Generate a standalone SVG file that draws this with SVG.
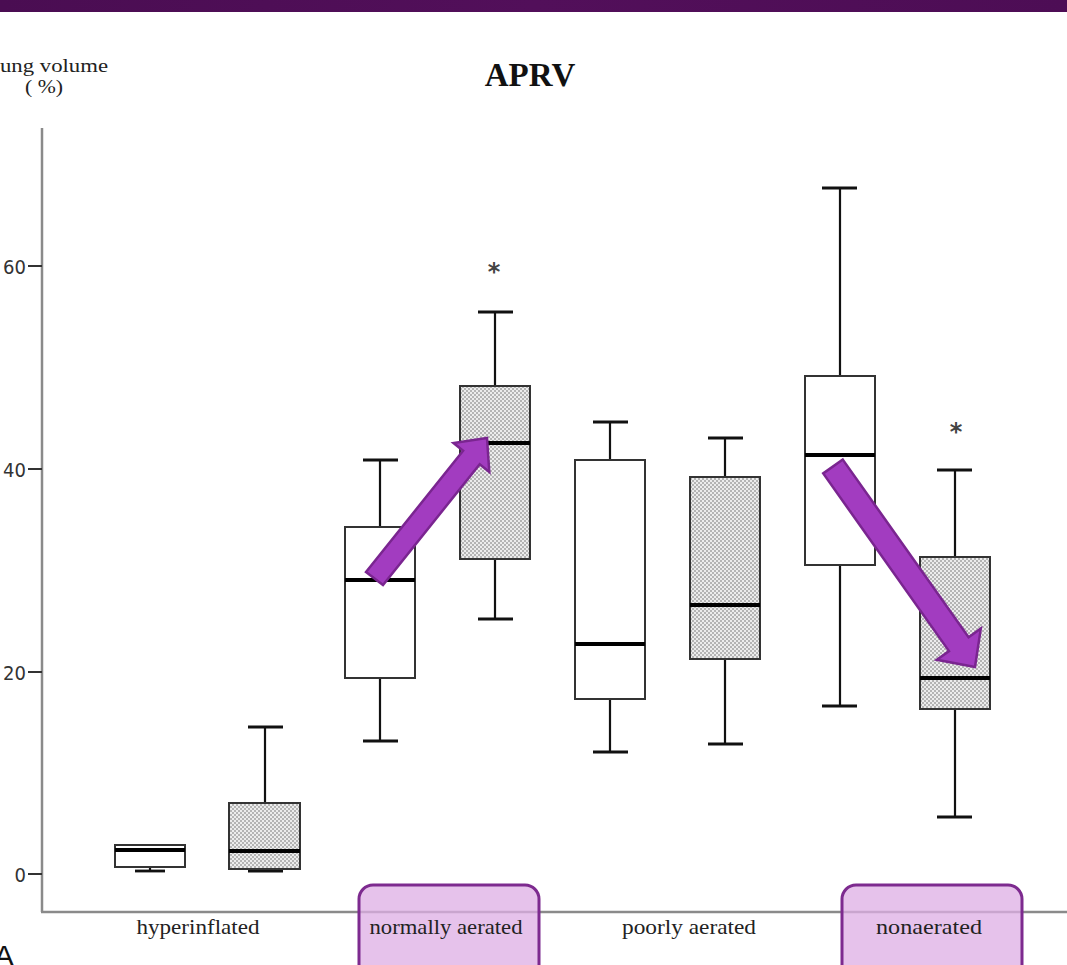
<svg xmlns="http://www.w3.org/2000/svg" width="1067" height="965" viewBox="0 0 1067 965">
<defs>
<linearGradient id="band" x1="0" x2="1" y1="0" y2="0">
<stop offset="0" stop-color="#4a0d52"/><stop offset="0.5" stop-color="#520f5a"/><stop offset="1" stop-color="#4d0d55"/>
</linearGradient>
<pattern id="dots" width="4" height="4" patternUnits="userSpaceOnUse">
<rect width="4" height="4" fill="#ececec"/>
<rect width="2" height="2" fill="#b4b4b4"/>
<rect x="2" y="2" width="2" height="2" fill="#b4b4b4"/>
</pattern>
</defs>
<style>
.axis{stroke:#8a8a8a;stroke-width:2.5;fill:none}
.tick{stroke:#333;stroke-width:2}
.ticklbl{font-family:"DejaVu Sans Condensed","DejaVu Sans",sans-serif;font-size:20px;fill:#333;text-anchor:end}
.cat{font-family:"Liberation Serif",serif;font-size:21px;fill:#222;text-anchor:middle}
.ser{font-family:"Liberation Serif",serif;font-size:19px;fill:#222}
.wh{stroke:#111;stroke-width:2.2}
.cap{stroke:#111;stroke-width:2.8}
.box{stroke:#333;stroke-width:2}
.open{fill:#fff}
.dot{fill:url(#dots)}
.med{stroke:#000;stroke-width:4}
.ast{font-family:"DejaVu Sans",sans-serif;font-size:24px;font-weight:bold;fill:#444;text-anchor:middle}
.hl{fill:#deaee4;fill-opacity:0.75;stroke:#7d2a8f;stroke-width:3}
.arrow{fill:#a23cc0;stroke:#7a2590;stroke-width:2.5;stroke-linejoin:miter}
</style>
<rect width="1067" height="965" fill="#fff"/>
<rect width="1067" height="12" fill="url(#band)"/>

<g id="axes">
<line class="axis" x1="42" y1="128" x2="42" y2="912"/>
<line class="axis" x1="41" y1="912" x2="1067" y2="912"/>
<line class="tick" x1="28" y1="266" x2="42" y2="266"/>
<line class="tick" x1="28" y1="469" x2="42" y2="469"/>
<line class="tick" x1="28" y1="672" x2="42" y2="672"/>
<line class="tick" x1="28" y1="874" x2="42" y2="874"/>
<text class="ticklbl" x="26" y="274">60</text>
<text class="ticklbl" x="26" y="477">40</text>
<text class="ticklbl" x="26" y="680">20</text>
<text class="ticklbl" x="26" y="882">0</text>
<text class="ser" x="0" y="72" textLength="108" lengthAdjust="spacingAndGlyphs">ung volume</text>
<text class="ser" x="25" y="93" textLength="38" lengthAdjust="spacingAndGlyphs">( %)</text>
<text x="530" y="86" style="font-family:'Liberation Serif',serif;font-size:33px;font-weight:bold;fill:#111" text-anchor="middle">APRV</text>
<text x="-6" y="966" style="font-family:'Liberation Sans',sans-serif;font-size:30px;fill:#111">A</text>
</g>

<g id="highlights">
<rect class="hl" x="359" y="885" width="180" height="95" rx="14"/>
<rect class="hl" x="842" y="885" width="180" height="95" rx="14"/>
</g>

<g id="labels">
<text class="cat" x="198" y="934" textLength="123" lengthAdjust="spacingAndGlyphs">hyperinflated</text>
<text class="cat" x="446" y="934" textLength="153" lengthAdjust="spacingAndGlyphs">normally aerated</text>
<text class="cat" x="689" y="934" textLength="134" lengthAdjust="spacingAndGlyphs">poorly aerated</text>
<text class="cat" x="929" y="934" textLength="106" lengthAdjust="spacingAndGlyphs">nonaerated</text>
</g>

<g id="box-hyper-1">
<line class="wh" x1="150" y1="867" x2="150" y2="871"/>
<line class="cap" x1="135" y1="871" x2="165" y2="871"/>
<rect class="box open" x="115" y="845" width="70" height="22"/>
<line class="med" x1="115" y1="850" x2="185" y2="850"/>
</g>
<g id="box-hyper-2">
<line class="wh" x1="265" y1="727" x2="265" y2="803"/>
<line class="cap" x1="248" y1="727" x2="283" y2="727"/>
<line class="cap" x1="248" y1="871" x2="283" y2="871"/>
<rect class="box dot" x="229" y="803" width="71" height="66"/>
<line class="med" x1="229" y1="851" x2="300" y2="851"/>
</g>
<g id="box-normal-1">
<line class="wh" x1="380" y1="460" x2="380" y2="741"/>
<line class="cap" x1="363" y1="460" x2="398" y2="460"/>
<line class="cap" x1="363" y1="741" x2="398" y2="741"/>
<rect class="box open" x="345" y="527" width="70" height="151"/>
<line class="med" x1="345" y1="580" x2="415" y2="580"/>
</g>
<g id="box-normal-2">
<line class="wh" x1="495" y1="312" x2="495" y2="619"/>
<line class="cap" x1="478" y1="312" x2="513" y2="312"/>
<line class="cap" x1="478" y1="619" x2="513" y2="619"/>
<rect class="box dot" x="460" y="386" width="70" height="173"/>
<line class="med" x1="460" y1="443" x2="530" y2="443"/>
<text class="ast" x="494" y="280">*</text>
</g>
<g id="box-poor-1">
<line class="wh" x1="610" y1="422" x2="610" y2="752"/>
<line class="cap" x1="593" y1="422" x2="628" y2="422"/>
<line class="cap" x1="593" y1="752" x2="628" y2="752"/>
<rect class="box open" x="575" y="460" width="70" height="239"/>
<line class="med" x1="575" y1="644" x2="645" y2="644"/>
</g>
<g id="box-poor-2">
<line class="wh" x1="725" y1="438" x2="725" y2="744"/>
<line class="cap" x1="708" y1="438" x2="743" y2="438"/>
<line class="cap" x1="708" y1="744" x2="743" y2="744"/>
<rect class="box dot" x="690" y="477" width="70" height="182"/>
<line class="med" x1="690" y1="605" x2="760" y2="605"/>
</g>
<g id="box-non-1">
<line class="wh" x1="840" y1="188" x2="840" y2="706"/>
<line class="cap" x1="822" y1="188" x2="857" y2="188"/>
<line class="cap" x1="822" y1="706" x2="857" y2="706"/>
<rect class="box open" x="805" y="376" width="70" height="189"/>
<line class="med" x1="805" y1="455" x2="875" y2="455"/>
</g>
<g id="box-non-2">
<line class="wh" x1="955" y1="470" x2="955" y2="817"/>
<line class="cap" x1="937" y1="470" x2="972" y2="470"/>
<line class="cap" x1="937" y1="817" x2="972" y2="817"/>
<rect class="box dot" x="920" y="557" width="70" height="152"/>
<line class="med" x1="920" y1="678" x2="990" y2="678"/>
<text class="ast" x="956" y="440">*</text>
</g>

<g id="connectors">
<polygon class="arrow" points="366,572 463.1,450.8 453.5,443.1 487,438 489.3,471.9 479.7,464.2 383,585"/>
<polygon class="arrow" points="842.8,459.6 968.6,637.3 980.8,628.6 975,667 936.8,659.8 949,651.1 823.2,473.4"/>
</g>
</svg>
